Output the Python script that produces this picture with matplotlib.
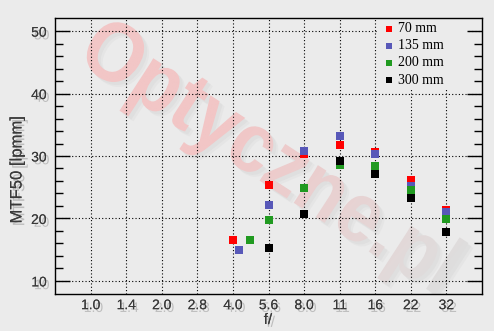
import matplotlib
matplotlib.use('Agg')
import matplotlib.pyplot as plt
import matplotlib.patheffects as pe
from matplotlib.patches import Rectangle, PathPatch
from matplotlib.textpath import TextPath
from matplotlib.font_manager import FontProperties
from matplotlib.transforms import Affine2D, IdentityTransform
import numpy as np

# nominal apertures on the x axis
f_labels = ['1.0', '1.4', '2.0', '2.8', '4.0', '5.6', '8.0', '11', '16', '22', '32']
f_nominal = [1.0, 1.4, 2.0, 2.8, 4.0, 5.6, 8.0, 11, 16, 22, 32]

# MTF50 [lpmm] per focal length (f-number, value)
f_70 = [4.0, 5.6, 8.0, 11, 16, 22, 32]
mtf_70 = [16.6, 25.3, 30.3, 31.7, 30.7, 26.1, 21.4]
f_135 = [4.25, 5.6, 8.0, 11, 16, 22, 32]
mtf_135 = [14.9, 22.1, 30.8, 33.2, 30.4, 25.2, 21.0]
f_200 = [4.7, 5.6, 8.0, 11, 16, 22, 32]
mtf_200 = [16.6, 19.7, 24.8, 28.5, 28.4, 24.5, 19.9]
f_300 = [5.6, 8.0, 11, 16, 22, 32]
mtf_300 = [15.2, 20.7, 29.2, 27.1, 23.2, 17.8]

series = [('70 mm', f_70, mtf_70, '#ff0000'),
          ('135 mm', f_135, mtf_135, '#5858b8'),
          ('200 mm', f_200, mtf_200, '#209a20'),
          ('300 mm', f_300, mtf_300, '#000000')]

bg = '#ebebeb'
txt_col = '#3a3a3a'
shadow = [pe.withSimplePatchShadow(offset=(2, -2), shadow_rgbFace='#909090', alpha=0.5), pe.Normal()]

def fpos(f):
    # log spacing between the nominal stops
    return np.interp(np.log(f), np.log(f_nominal), np.arange(len(f_nominal)))

W, H = 494, 331
fig = plt.figure(figsize=(W/100, H/100), dpi=100, facecolor=bg)
ax = fig.add_axes([55/W, 37/H, 427/W, 276/H], facecolor=bg)

# watermark: text path filled with a pink -> grey gradient, soft shadow underneath
tp = TextPath((0, 0), 'Optyczne.pl', size=80, prop=FontProperties(family='Liberation Sans', weight='bold'))
ext = tp.get_extents()
cx, cy = (ext.x0 + ext.x1) / 2, (ext.y0 + ext.y1) / 2
wm_tr = Affine2D().translate(-cx, -cy).scale(0.96, 1.06).rotate_deg(-33).translate(268, H - 160)
wm_path = wm_tr.transform_path(tp)
for off, a in [(5, 0.05), (3, 0.06)]:
    ax.add_patch(PathPatch(Affine2D().translate(off, -off).transform_path(wm_path),
                           transform=IdentityTransform(), facecolor='#808080', edgecolor='none',
                           alpha=a, zorder=0.1))
grad = np.linspace(0, 1, 256)
gx, gy = np.meshgrid(grad, grad)
t = np.clip((gx * 1.3 + gy * 0.7) / 2 * 2.2 - 0.95, 0, 1)
pink = np.array([242, 198, 198]) / 255
grey = np.array([222, 222, 222]) / 255
img = pink[None, None, :] * (1 - t[..., None]) + grey[None, None, :] * t[..., None]
im = ax.imshow(img, extent=[0, 1, 0, 1], transform=fig.transFigure, origin='upper',
               aspect='auto', zorder=0.2, interpolation='bilinear')
clip = PathPatch(wm_path, transform=IdentityTransform(), facecolor='none', edgecolor='none')
im.set_clip_path(clip)

for name, f, v, c in series:
    ax.scatter(fpos(np.array(f)), v, marker='s', s=28, color=c, linewidths=0, label=name, zorder=3)

ax.set_xlim(-1, 11)
ax.set_ylim(7.9, 52.1)
ax.set_xticks(range(len(f_labels)))
ax.set_xticklabels(f_labels)
ax.set_yticks([10, 20, 30, 40, 50])
ax.set_yticks(np.arange(12, 50, 2), minor=True)

ax.grid(True, which='major', color='black', linestyle=(0, (1, 2)), linewidth=0.8)
ax.set_axisbelow(True)

ax.tick_params(axis='y', which='major', direction='in', length=10.5, width=1, left=True, right=True,
               pad=6, labelsize=10, labelcolor=txt_col)
ax.tick_params(axis='y', which='minor', direction='in', length=5.8, width=1, left=True, right=True)
ax.tick_params(axis='x', length=0, pad=3, labelsize=10, labelcolor=txt_col)
for lab in ax.get_xticklabels() + ax.get_yticklabels():
    lab.set_family('Liberation Sans')
    lab.set_path_effects(shadow)
for s in ax.spines.values():
    s.set_linewidth(1)
    s.set_color('black')

fig.text(17/W, 1 - 170/H, 'MTF50 [lpmm]', rotation=90, ha='center', va='center',
         fontsize=12, family='Liberation Sans', color=txt_col, path_effects=shadow)
fig.text(268/W, 1 - 320/H, 'f/', ha='center', va='center',
         fontsize=11, family='Liberation Sans', color=txt_col, path_effects=shadow)

# legend area hides the grid (right-hand ticks stay visible)
ax.add_patch(Rectangle(((378-55)/427, (294-88)/276), (467-378)/427, (88-18)/276,
                       transform=ax.transAxes, facecolor=bg, edgecolor='none', zorder=1))
leg = ax.legend(loc='upper left', bbox_to_anchor=((376-55)/427, 1.0), borderaxespad=0, frameon=False,
                prop={'family': 'Liberation Serif', 'size': 10}, handletextpad=0.1,
                labelspacing=0.3, borderpad=0.3, markerscale=0.8, handlelength=1.2)

fig.savefig('out.png', dpi=100, facecolor=bg)
